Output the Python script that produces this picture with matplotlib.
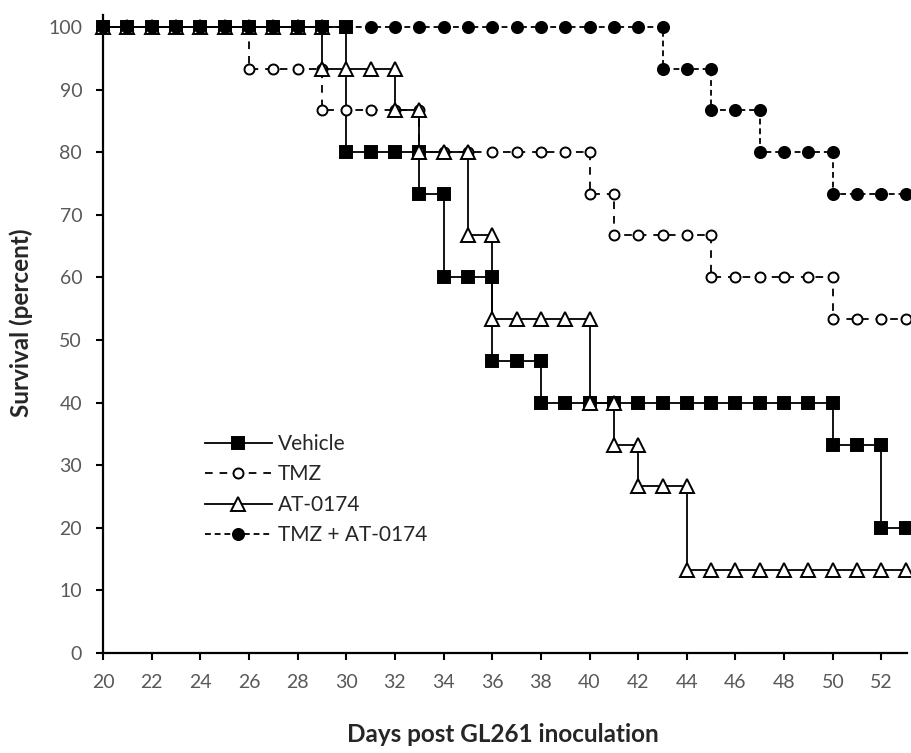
import matplotlib
matplotlib.use("Agg")
import matplotlib.pyplot as plt
import numpy as np

plt.rcParams['font.family'] = ['Lato', 'DejaVu Sans']
plt.rcParams['lines.scale_dashes'] = False

# ---- data (survival % per day, days 20..53) ----
days = list(range(20, 54))
vehicle = [100]*10 + [80]*3 + [73.3] + [60]*2 + [46.7]*2 + [40]*12 + [33.3]*2 + [20]*2
tmz = [100]*6 + [93.3]*3 + [86.7]*4 + [80]*7 + [73.3] + [66.7]*4 + [60]*5 + [53.3]*4
at0174 = [100]*9 + [93.3]*3 + [86.7] + [80]*2 + [66.7] + [53.3]*4 + [40] + [33.3] + [26.7]*2 + [13.3]*10
tmz_at = [100]*23 + [93.3]*2 + [86.7]*2 + [80]*3 + [73.3]*4

labels = ["Vehicle", "TMZ", "AT-0174", "TMZ + AT-0174"]
x_ticks = list(range(20, 53, 2))
y_ticks = list(range(0, 101, 10))


def km_points(d, s):
    xs, ys = [d[0]], [s[0]]
    for i in range(1, len(d)):
        if s[i] != s[i - 1]:
            xs.append(d[i]); ys.append(s[i - 1])
        xs.append(d[i]); ys.append(s[i])
    return xs, ys


fig = plt.figure(figsize=(9.11, 7.53), dpi=100)
ax = fig.add_axes([103/911, 100/753, 804/911, 638/753])

styles = [
    dict(ls='-', marker='s', mfc='black', mec='black', ms=8.3),
    dict(ls=(0, (5.5, 5.0)), marker='o', mfc='white', mec='black', ms=7.2),
    dict(ls='-', marker='^', mfc='white', mec='black', ms=9.5),
    dict(ls=(0, (4.2, 2.8)), marker='o', mfc='black', mec='black', ms=8.0),
]
series = [vehicle, tmz, at0174, tmz_at]
for i, (s, st, lab) in enumerate(zip(series, styles, labels)):
    xs, ys = km_points(days, s)
    ax.plot(xs, ys, color='black', lw=1.3, mew=1.4, label=lab,
            clip_on=False, zorder=3 + i, **st)

ax.set_xlim(20, 53.05)
ax.set_ylim(0, 101.9)
ax.set_xticks(x_ticks)
ax.set_yticks(y_ticks)
for sp in ['top', 'right']:
    ax.spines[sp].set_visible(False)
for sp in ['left', 'bottom']:
    ax.spines[sp].set_linewidth(1.6)
ax.tick_params(axis='both', direction='out', length=5, width=1.5,
               labelsize=14, labelcolor='#595959', colors='black')
ax.tick_params(axis='x', pad=10)
ax.tick_params(axis='y', pad=10)

fig.text(503/911, 1 - 735/753, "Days post GL261 inoculation", ha='center',
         va='center', fontsize=17.5, fontweight='bold', color='#262626')
fig.text(21/911, 1 - 323/753, "Survival (percent)", ha='center', va='center',
         rotation=90, fontsize=17.5, fontweight='bold', color='#262626')

leg = ax.legend(loc='upper left', bbox_to_anchor=(205/911, 1 - 434/753),
                bbox_transform=fig.transFigure, frameon=False, fontsize=15,
                handlelength=3.2, handletextpad=0.3, labelspacing=0.5,
                borderpad=0, borderaxespad=0, numpoints=1)
for t in leg.get_texts():
    t.set_color('#262626')

fig.savefig("out.png", dpi=100)
